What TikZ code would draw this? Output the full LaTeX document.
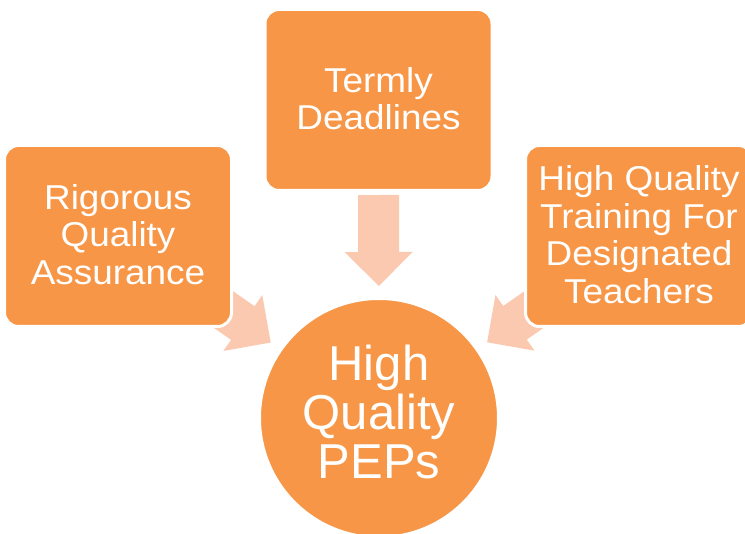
\documentclass[tikz,border=0pt]{standalone}
\usepackage{fontspec}
\setmainfont{Liberation Sans}
\newfontfamily\boxfont{Liberation Sans}[FakeStretch=1.07]
\usepackage{tikz}
\usetikzlibrary{calc,backgrounds}
\definecolor{pepOrange}{RGB}{247,150,70}
\definecolor{pepPeach}{RGB}{250,201,175}
\tikzset{
	box/.style={rectangle, rounded corners=14pt,
		fill=pepOrange, draw=white, line width=3pt,
		minimum width=227pt, minimum height=181pt,
		text=white, align=center,
		font=\boxfont\fontsize{34.5}{37.5}\selectfont,
		execute at end node={\rule[-3pt]{0pt}{1pt}}},
	goal/.style={circle, inner sep=0pt,
		fill=pepOrange, draw=white, line width=3pt,
		minimum size=239pt,
		text=white, align=center,
		font=\fontsize{49}{49}\selectfont,
		execute at end node={\rule[-13.5pt]{0pt}{1pt}}},
	feed/.style={fill=pepPeach}
}

\begin{document}
\begin{tikzpicture}[x=1pt, y=-1pt]
\useasboundingbox (0,0) rectangle (745,534);
\clip (0,0) rectangle (745,534);
\node[goal] (pep) at (379,418) {High\\Quality\\PEPs};
\node[box] (rqa) at (118,236) {Rigorous\\Quality\\Assurance};
\node[box] (td) at (378.5,100) {Termly\\Deadlines};
\node[box] (hqt) at (639,236) {High Quality\\Training For\\Designated\\Teachers};

\begin{scope}[on background layer]
\fill[white] (0,0) rectangle (745,534);
\foreach \src in {rqa,td,hqt}{
	\coordinate (tip) at ($(pep)!132pt!(\src)$);
	\coordinate (neck) at ($(pep)!166pt!(\src)$);
	\coordinate (tail) at ($(pep)!223pt!(\src)$);
	\fill[feed] (tip)
		-- ($(neck)!34pt!90:(pep)$)
		-- ($(neck)!20.5pt!90:(pep)$)
		-- ($(tail)!20.5pt!90:(pep)$)
		-- ($(tail)!20.5pt!-90:(pep)$)
		-- ($(neck)!20.5pt!-90:(pep)$)
		-- ($(neck)!34pt!-90:(pep)$)
		-- cycle;
}
\end{scope}
\end{tikzpicture}
\end{document}
